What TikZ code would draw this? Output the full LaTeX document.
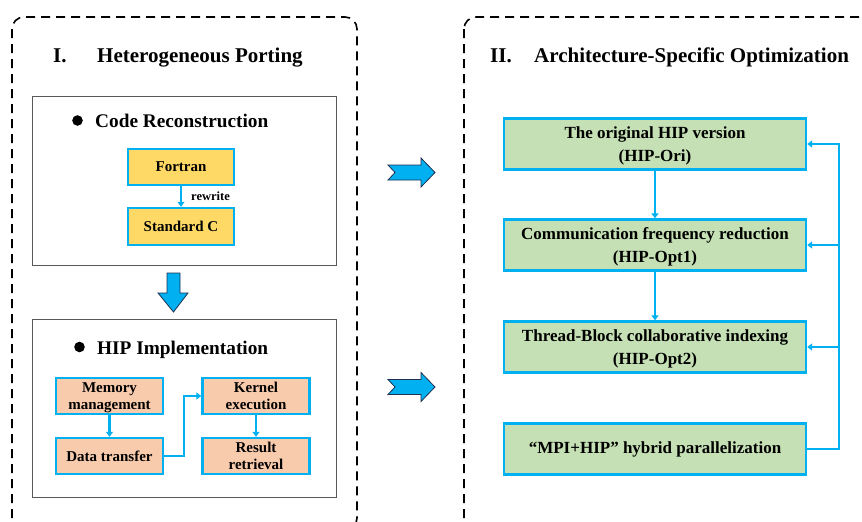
\documentclass[tikz,border=0pt]{standalone}
\usepackage{fontspec}
\setmainfont{Liberation Serif}
\usetikzlibrary{arrows.meta}
\definecolor{cblue}{HTML}{00B0F0}
\definecolor{cyellow}{HTML}{FFD966}
\definecolor{cpeach}{HTML}{F8CBAD}
\definecolor{cgreen}{HTML}{C5E0B4}
\definecolor{cgray}{HTML}{595959}
\definecolor{cedge}{HTML}{1F3050}
\begin{document}
\begin{tikzpicture}[x=1pt,y=-1pt,
 dashbox/.style={draw=black, line width=1.6pt, dash pattern=on 9pt off 6pt, rounded corners=12pt},
 panel/.style={draw=cgray, line width=1pt, fill=white},
 basebox/.style={draw=cblue, line width=2.4pt, inner sep=0pt, align=center, text=black},
 ybox/.style={basebox, fill=cyellow, minimum width=106pt, minimum height=36pt, font=\bfseries\fontsize{15}{17}\selectfont},
 pbox/.style={basebox, fill=cpeach, minimum width=107pt, minimum height=36pt, font=\bfseries\fontsize{15}{17.5}\selectfont},
 twoline/.style={text depth=-1.5pt},
 gbox/.style={basebox, fill=cgreen, minimum width=302pt, minimum height=51pt, font=\bfseries\fontsize{17}{23}\selectfont},
 conn/.style={draw=cblue, line width=2.2pt, -{Triangle[width=7pt,length=5pt]}},
 bigarrow/.style={fill=cblue, draw=cedge, line width=0.8pt, line join=miter},
 title/.style={anchor=base west, inner sep=0pt, font=\bfseries\fontsize{21}{25}\selectfont},
 subtitle/.style={anchor=base west, inner sep=0pt, font=\bfseries\fontsize{19.3}{23}\selectfont}
]
\useasboundingbox (0,0) rectangle (862,522);

% dashed frames
\draw[dashbox] (12,17) rectangle (357,530);
\draw[dashbox] (464,17) rectangle (890,530);

% titles
\node[title] (t1) at (53,62) {\makebox[44pt][l]{I.}Heterogeneous Porting};
\node[title] (t2) at (490,62) {\makebox[44pt][l]{II.}Architecture-Specific Optimization};

% panels
\draw[panel] (32,96) rectangle (336,265);
\draw[panel] (32,319) rectangle (336,497);

% panel 1
\fill (77.5,120.5) circle (5.3pt);
\node[subtitle] (s1) at (95,127) {Code Reconstruction};
\node[ybox] (fortran) at (181,167) {Fortran};
\node[ybox, minimum height=37pt] (stdc) at (181,226.5) {Standard C};
\draw[conn] (fortran) -- (stdc);
\node[anchor=base west, inner sep=0pt, font=\bfseries\fontsize{12.5}{14}\selectfont] (rw) at (191,200) {rewrite};

% down arrow
\draw[bigarrow] (167,273) -- (180,273) -- (180,293) -- (188,293) -- (173.5,312) -- (158,293) -- (167,293) -- cycle;

% panel 2
\fill (79.5,347) circle (5.3pt);
\node[subtitle] (s2) at (97,354) {HIP Implementation};
\node[pbox, twoline] (mem) at (109.5,396) {Memory\\management};
\node[pbox] (data) at (109.5,456) {Data transfer};
\node[pbox, twoline] (kernel) at (256,396) {Kernel\\execution};
\node[pbox, twoline] (result) at (256,456) {Result\\retrieval};
\draw[conn] (mem) -- (data);
\draw[conn] (data.east) -- ++(20,0) |- (kernel.west);
\draw[conn] (kernel) -- (result);

% chevron arrows
\draw[bigarrow] (388,165) -- (395,172.5) -- (388,180) -- (421,180) -- (421,187) -- (435,172.5) -- (421,158) -- (421,165) -- cycle;
\begin{scope}[shift={(0,214.5)}]
\draw[bigarrow] (388,165) -- (395,172.5) -- (388,180) -- (421,180) -- (421,187) -- (435,172.5) -- (421,158) -- (421,165) -- cycle;
\end{scope}

% right column
\node[gbox, twoline] (g1) at (655,144) {The original HIP version\\(HIP-Ori)};
\node[gbox, twoline] (g2) at (655,245) {Communication frequency reduction\\(HIP-Opt1)};
\node[gbox, twoline] (g3) at (655,347) {Thread-Block collaborative indexing\\(HIP-Opt2)};
\node[gbox] (g4) at (655,449) {“MPI+HIP” hybrid parallelization};
\draw[conn] (g1) -- (g2);
\draw[conn] (g2) -- (g3);
\coordinate (fb) at (839,300);
\draw[conn] (g4.east) -| (fb |- g1.east) -- (g1.east);
\draw[conn] (fb |- g2.east) -- (g2.east);
\draw[conn] (fb |- g3.east) -- (g3.east);
\end{tikzpicture}
\end{document}
